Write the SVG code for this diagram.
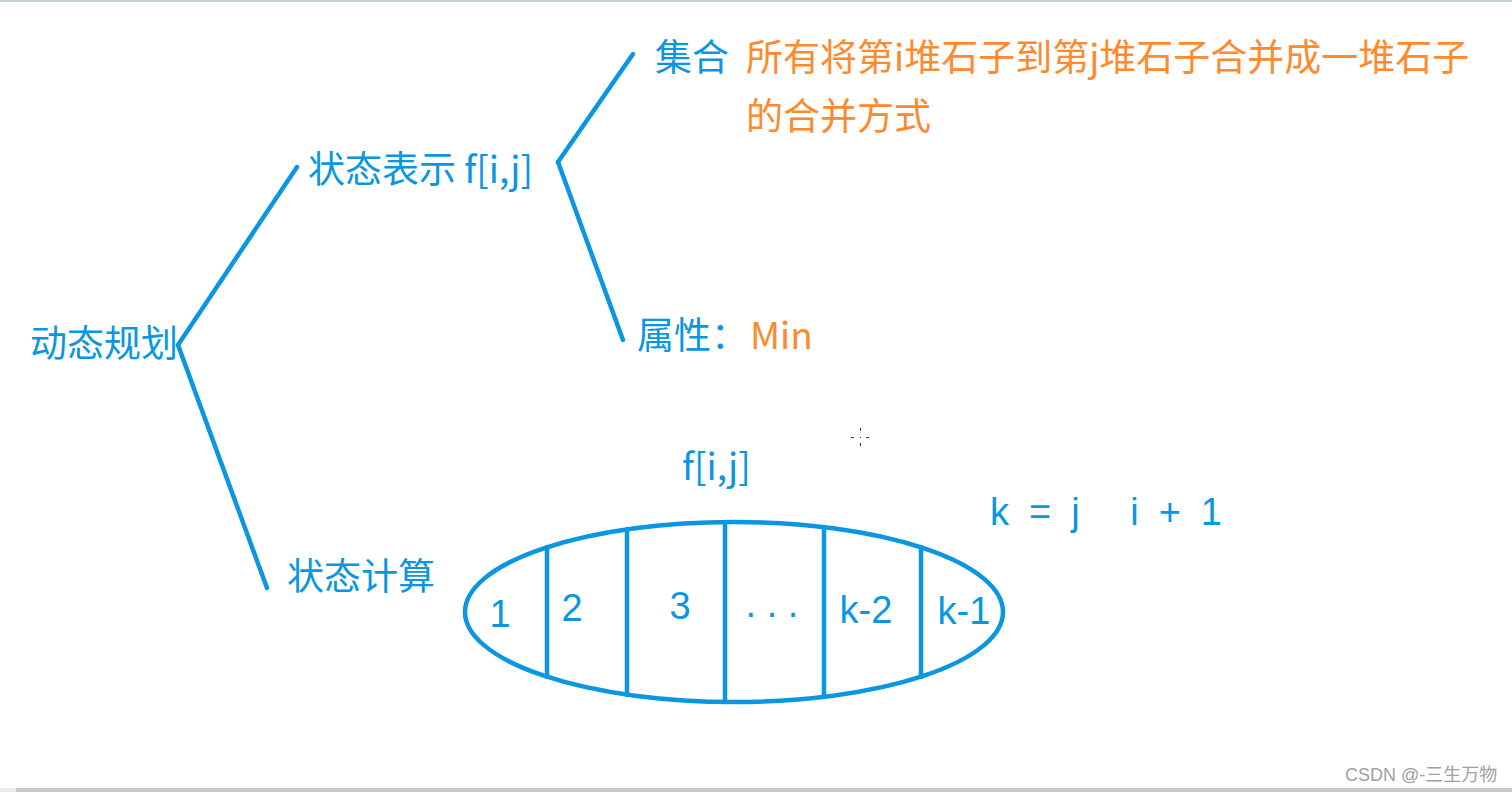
<svg xmlns="http://www.w3.org/2000/svg" width="1512" height="792" viewBox="0 0 1512 792">
<style>
.b{fill:#0a96e0;font-family:"Noto Sans CJK SC","Noto Sans",sans-serif;font-size:37px}
.o{fill:#fd8a2e}
.ln{stroke:#0a96e0;stroke-width:4.5;stroke-linecap:round;fill:none}
.h{fill:#0a96e0;font-family:"Liberation Sans",sans-serif;font-size:38px}
.wm{fill:#a0a0a0;font-family:"Liberation Sans","Noto Sans CJK SC",sans-serif;font-size:18px}
</style>
<rect width="1512" height="792" fill="#ffffff"/>
<rect x="0" y="0" width="1512" height="2" fill="#c3ced9"/>
<rect x="0" y="788" width="16" height="4" fill="#ededed"/>
<rect x="16" y="788" width="1496" height="4" fill="#c8c8c8"/>
<g id="connectors">
<line class="ln" x1="178" y1="345" x2="297" y2="167"/>
<line class="ln" x1="178" y1="345" x2="267" y2="588"/>
<line class="ln" x1="558" y1="162" x2="633" y2="54"/>
<line class="ln" x1="558" y1="162" x2="623" y2="340"/>
</g>
<g id="root"><text class="b" x="30" y="357">动态规划</text></g>
<g id="state-repr"><text class="b" x="308" y="183">状态表示 f[i,j]</text></g>
<g id="set"><text class="b" x="655" y="71">集合</text>
<text class="b o" x="746" y="71">所有将第i堆石子到第j堆石子合并成一堆石子</text>
<text class="b o" x="746" y="130">的合并方式</text></g>
<g id="attr"><text class="b" x="637" y="349">属性：<tspan class="o" x="750">Min</tspan></text></g>
<g id="state-calc"><text class="b" x="287" y="590">状态计算</text></g>
<g id="partition">
<text class="b" x="682" y="480">f[i,j]</text>
<ellipse cx="734" cy="612" rx="269" ry="90" class="ln"/>
<line class="ln" x1="547" y1="547" x2="547" y2="677"/>
<line class="ln" x1="627" y1="529" x2="627" y2="695"/>
<line class="ln" x1="725" y1="522" x2="725" y2="702"/>
<line class="ln" x1="824" y1="527" x2="824" y2="697"/>
<line class="ln" x1="921" y1="547" x2="921" y2="677"/>
<text class="h" x="500" y="627" text-anchor="middle">1</text>
<text class="h" x="572" y="621" text-anchor="middle">2</text>
<text class="h" x="680" y="619" text-anchor="middle">3</text>
<text class="h" x="772" y="617" text-anchor="middle">. . .</text>
<text class="h" x="866" y="623" text-anchor="middle" font-size="34">k-2</text>
<text class="h" x="964" y="624" text-anchor="middle" font-size="34">k-1</text>
</g>
<g id="note"><text class="h" x="990" y="525" font-size="44" textLength="232" lengthAdjust="spacing">k=j i+1</text></g>
<g id="cursor" fill="#333">
<rect x="860" y="428" width="1" height="3"/><rect x="860" y="443" width="1" height="3"/>
<rect x="851" y="437" width="3" height="1"/><rect x="866" y="437" width="3" height="1"/>
<rect x="860" y="437" width="1" height="1"/>
</g>
<text class="wm" x="1345" y="781">CSDN @-三生万物</text>
</svg>
